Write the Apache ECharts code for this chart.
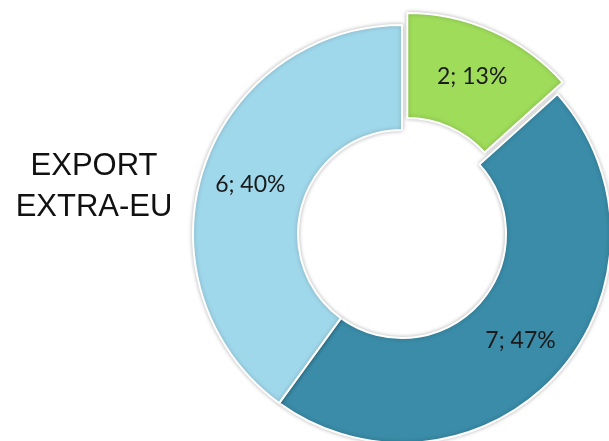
<!DOCTYPE html>
<html>
<head>
<meta charset="utf-8">
<script src="https://cdn.jsdelivr.net/npm/echarts@6/dist/echarts.min.js"></script>
<style>
    html, body { margin: 0; padding: 0; background: #fff; }
    #chart { width: 609px; height: 441px; }
</style>
</head>
<body>
<div id="chart"></div>
<script>
// slice data, clockwise from 12 o'clock
let names = ['A', 'B', 'C'];
let values = [2, 7, 6];
let colors = ['#9fdc5a', '#3a8ca8', '#a0d8eb'];

let chart = echarts.init(document.getElementById('chart'));

let pieData = values.map((v, idx) => {
    let item = {
        name: names[idx],
        value: v,
        itemStyle: { color: colors[idx] }
    };
    if (idx === 0) {
        item.selected = true;
    }
    return item;
});

let option = {
    animation: false,
    title: {
        text: 'EXPORT\nEXTRA-EU',
        left: 89,
        top: 141,
        textAlign: 'center',
        textStyle: {
            fontFamily: 'Liberation Sans',
            fontSize: 31,
            fontWeight: 'normal',
            lineHeight: 41,
            color: '#111'
        }
    },
    series: [{
        type: 'pie',
        center: [402, 234],
        radius: [104, 209],
        startAngle: 90,
        clockwise: true,
        selectedMode: 'single',
        selectedOffset: 13,
        avoidLabelOverlap: false,
        itemStyle: {
            borderColor: '#fff',
            borderWidth: 2,
            shadowBlur: 4,
            shadowColor: 'rgba(0, 0, 0, 0.25)'
        },
        select: {
            itemStyle: {
                borderColor: '#fff',
                borderWidth: 2
            }
        },
        label: {
            show: true,
            position: 'inside',
            fontFamily: 'Lato',
            fontSize: 23,
            color: '#1a1a1a',
            formatter: function(p) {
                return p.value + '; ' + Math.round(p.percent) + '%';
            }
        },
        labelLine: { show: false },
        data: pieData
    }]
};
chart.setOption(option);
</script>
</body>
</html>
